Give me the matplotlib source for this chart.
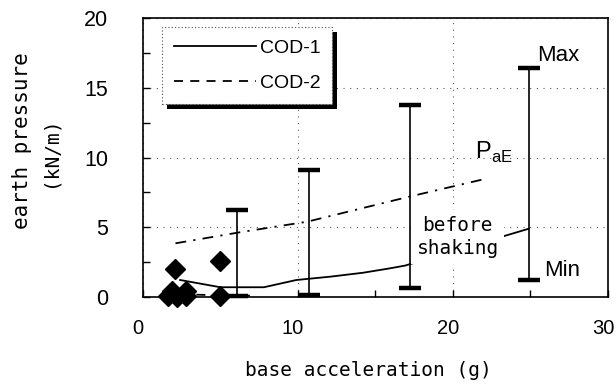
import matplotlib
matplotlib.use("Agg")
import matplotlib.pyplot as plt
from matplotlib.patches import Rectangle
from matplotlib.transforms import ScaledTranslation

# error bars: base acceleration, min / max earth pressure
bar_x = [6.1, 10.7, 17.2, 24.9]
bar_min = [0.05, 0.15, 0.62, 1.22]
bar_max = [6.25, 9.1, 13.75, 16.4]

# measured points (diamonds)
pt_x = [1.6, 2.2, 2.8, 1.9, 2.8, 2.05, 4.95, 4.95]
pt_y = [0.05, 0.0, 0.05, 0.45, 0.45, 1.98, 0.05, 2.55]

# COD-1 (before shaking), COD-2
cod1_x = [2.4, 5.0, 7.8, 9.9, 12.1, 14.2, 15.9, 16.9, 24.9]
cod1_y = [1.22, 0.7, 0.7, 1.22, 1.46, 1.74, 2.05, 2.25, 4.9]
cod2_x = [2.4, 4.0, 5.5, 6.9]
cod2_y = [0.2, 0.15, 0.1, 0.1]

# PaE
pae_x = [2.1, 6.3, 10.6, 17.2, 22.2]
pae_y = [3.85, 4.65, 5.4, 7.2, 8.5]

narrow = ["Liberation Sans", "DejaVu Sans"]
mono = ["DejaVu Sans Mono"]

plt.rcParams["mathtext.fontset"] = "custom"
plt.rcParams["mathtext.rm"] = "Liberation Sans"

fig = plt.figure(figsize=(6.16, 3.88), dpi=100)
ax = fig.add_axes([0.232, 0.2345, 0.755, 0.719])

ax.set_xlim(0, 30)
ax.set_ylim(0, 20)
ax.set_xticks([0, 10, 20, 30])
ax.set_xticks([5, 15, 25], minor=True)
ax.set_yticks([0, 5, 10, 15, 20])
ax.set_yticks([2.5, 7.5, 12.5, 17.5], minor=True)
ax.tick_params(which="both", direction="in", length=5, width=1, color="k")
ax.tick_params(axis="y", pad=25)
ax.tick_params(axis="x", pad=16)
for lab in ax.get_yticklabels():
    lab.set_family(narrow)
    lab.set_fontsize(15.5)
# x labels sit a little left of their ticks in the original
shift = ScaledTranslation(-5 / 100, 0, fig.dpi_scale_trans)
for lab in ax.get_xticklabels():
    lab.set_family(narrow)
    lab.set_fontsize(14.5)
    lab.set_transform(lab.get_transform() + shift)
for sp in ax.spines.values():
    sp.set_linewidth(1.2)

ax.grid(True, which="major", linestyle=(0, (1, 5)), color="0.35", linewidth=0.8)

ax.plot(pae_x, pae_y, color="k", lw=1.3, linestyle=(0, (6, 4, 1.2, 4)), zorder=3)
ax.plot(cod1_x, cod1_y, color="k", lw=1.3, linestyle="-", zorder=3, label="COD-1")
ax.plot(cod2_x, cod2_y, color="k", lw=1.3, linestyle=(0, (5, 4)), zorder=3, label="COD-2")

for x, lo, hi in zip(bar_x, bar_min, bar_max):
    ax.errorbar([x], [(lo + hi) / 2], yerr=[[(hi - lo) / 2], [(hi - lo) / 2]],
                fmt="none", ecolor="k", elinewidth=1.2, capsize=8, capthick=3.2,
                zorder=3, clip_on=False)

ax.plot(pt_x, pt_y, linestyle="none", marker="D", markersize=10.5, color="k",
        zorder=5, clip_on=False)

ax.text(20.3, 4.3, "before\nshaking", family=mono, fontsize=14, ha="center",
        va="center", linespacing=1.3, zorder=4,
        bbox=dict(facecolor="white", edgecolor="none", pad=4))
ax.text(25.4, 17.35, "Max", family=narrow, fontsize=16, ha="left", va="center", zorder=4)
ax.text(25.9, 1.9, "Min", family=narrow, fontsize=16, ha="left", va="center", zorder=4,
        bbox=dict(facecolor="white", edgecolor="none", pad=1))
ax.text(21.4, 10.4, r"P$_{\rm aE}$", family=narrow, fontsize=17, ha="left", va="center", zorder=4)

leg = ax.legend(loc="upper left", bbox_to_anchor=(0.041, 0.968), prop={"family": narrow, "size": 14},
                handlelength=4.2, handletextpad=0.2, labelspacing=0.9, borderpad=0.62,
                borderaxespad=0, fancybox=False, framealpha=1)
leg.get_frame().set_edgecolor("0.3")
leg.get_frame().set_linestyle((0, (1, 2)))
leg.get_frame().set_linewidth(0.8)
leg.set_zorder(6)

fig.text(22 / 616, 1 - 141 / 388, "earth pressure", family=mono, fontsize=15,
         rotation=90, ha="center", va="center")
fig.text(50 / 616, 1 - 152 / 388, "(kN/m)", family=mono, fontsize=14,
         rotation=90, ha="center", va="center")
fig.text(368 / 616, 1 - 371 / 388, "base acceleration (g)", family=mono, fontsize=14,
         ha="center", va="center")

# black drop shadow under the legend box
fig.canvas.draw()
bb = leg.get_window_extent()
off = 5
shadow = Rectangle((bb.x0 + off, bb.y0 - off), bb.width, bb.height, transform=None,
                   facecolor="k", edgecolor="none", zorder=5.9)
ax.add_artist(shadow)

fig.savefig("out.png", dpi=100)
